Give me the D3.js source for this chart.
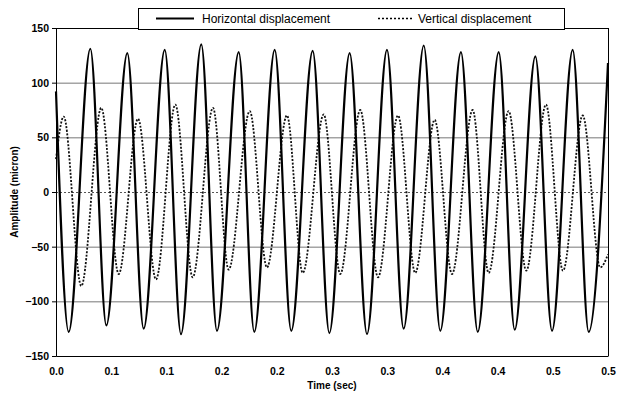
<!DOCTYPE html>
<html>
<head>
<meta charset="utf-8">
<script src="https://cdn.jsdelivr.net/npm/d3@7"></script>
<style>
body { margin: 0; background: #fff; }
svg { display: block; font-family: "Liberation Sans", Arial, sans-serif; }
</style>
</head>
<body>
<div id="chart"></div>
<script>
// Values: peaks and troughs of each trace
var horizTime = [0, 0.0115, 0.0311, 0.0456, 0.0646, 0.0794, 0.0985, 0.1132, 0.1316, 0.1458,
    0.1655, 0.1796, 0.1981, 0.2131, 0.2325, 0.2476, 0.2660, 0.2817, 0.2998, 0.3149,
    0.3331, 0.3481, 0.3668, 0.3820, 0.4010, 0.4155, 0.4342, 0.4493, 0.4680, 0.4825, 0.5];
var horizAmp = [92, -128, 131, -122, 127, -125, 130, -130, 135, -127,
    128, -128, 130, -127, 129, -129, 127, -130, 130, -125,
    134, -127, 128, -128, 128, -126, 124, -127, 130, -128, 118];

var vertTime = [0, 0.0070, 0.0229, 0.0410, 0.0568, 0.0743, 0.0906, 0.1081, 0.1238, 0.1422,
    0.1564, 0.1755, 0.1911, 0.2092, 0.2235, 0.2425, 0.2575, 0.2756, 0.2917, 0.3098,
    0.3254, 0.3430, 0.3587, 0.3774, 0.3919, 0.4100, 0.4260, 0.4438, 0.4592, 0.4771, 0.4930, 0.5];
var vertAmp = [30, 69, -86, 77, -75, 67, -80, 80, -78, 77,
    -71, 74, -69, 70, -74, 71, -75, 75, -78, 70,
    -74, 66, -75, 75, -74, 74, -72, 80, -72, 70, -69, -57];

var xTicks = [0, 0.05, 0.1, 0.15, 0.2, 0.25, 0.3, 0.35, 0.4, 0.45, 0.5];
var xTickLabels = ["0.0", "0.1", "0.1", "0.2", "0.2", "0.3", "0.3", "0.4", "0.4", "0.5", "0.5"];
var yTicks = [-150, -100, -50, 0, 50, 100, 150];
var seriesNames = ["Horizontal displacement", "Vertical displacement"];

var svgWidth = 618;
var svgHeight = 396;
var margin = {top: 28, right: 10, bottom: 40, left: 56};
var width = svgWidth - margin.left - margin.right;
var height = svgHeight - margin.top - margin.bottom;

var svg = d3.select("#chart").append("svg")
    .attr("width", svgWidth)
    .attr("height", svgHeight);

var chartGroup = svg.append("g")
    .attr("transform", `translate(${margin.left}, ${margin.top})`);

var x = d3.scaleLinear().domain([0, 0.5]).range([0, width]);
var y = d3.scaleLinear().domain([-150, 150]).range([height, 0]);

// grid lines
chartGroup.selectAll(".grid")
    .data(yTicks.filter(d => d != 150 && d != -150))
    .enter().append("line")
    .attr("x1", 0).attr("x2", width)
    .attr("y1", d => y(d) + 0.5).attr("y2", d => y(d) + 0.5)
    .attr("stroke", d => d == 0 ? "#555" : "#777")
    .attr("stroke-width", 1)
    .attr("stroke-dasharray", d => d == 0 ? "2,2" : null);

// frame top and right
chartGroup.append("line")
    .attr("x1", 0).attr("x2", width).attr("y1", 0.5).attr("y2", 0.5)
    .attr("stroke", "#000");
chartGroup.append("line")
    .attr("x1", width + 0.5).attr("x2", width + 0.5).attr("y1", 0).attr("y2", height)
    .attr("stroke", "#000");

var line = d3.line().curve(d3.curveMonotoneX);

var horizData = horizTime.map((t, i) => [x(t), y(horizAmp[i])]);
var vertData = vertTime.map((t, i) => [x(t), y(vertAmp[i])]);

chartGroup.append("path")
    .attr("d", line(vertData))
    .attr("fill", "none")
    .attr("stroke", "#111")
    .attr("stroke-width", 1.8)
    .attr("stroke-dasharray", "2,1.6");

chartGroup.append("path")
    .attr("d", line(horizData))
    .attr("fill", "none")
    .attr("stroke", "#000")
    .attr("stroke-width", 2.2);

// axes
var bottomAxis = d3.axisBottom(x).tickValues(xTicks)
    .tickFormat((d, i) => xTickLabels[i]).tickSize(0).tickPadding(12);
var leftAxis = d3.axisLeft(y).tickValues(yTicks).tickSize(4).tickPadding(3);

var gx = chartGroup.append("g")
    .attr("transform", `translate(0, ${height})`)
    .call(bottomAxis);
var gy = chartGroup.append("g").call(leftAxis);

[gx, gy].forEach(function(g) {
    g.selectAll("text").attr("font-family", "Liberation Sans, Arial, sans-serif")
        .attr("font-size", "10.5px").attr("font-weight", "bold").attr("fill", "#000");
    g.selectAll("path, line").attr("stroke", "#000");
});

// axis titles
svg.append("text")
    .attr("x", margin.left + width / 2)
    .attr("y", 389)
    .attr("text-anchor", "middle")
    .attr("font-size", "10px")
    .attr("font-weight", "bold")
    .text("Time (sec)");

svg.append("text")
    .attr("transform", `translate(18, ${margin.top + height / 2}) rotate(-90)`)
    .attr("text-anchor", "middle")
    .attr("font-size", "10px")
    .attr("font-weight", "bold")
    .text("Amplitude (micron)");

// legend
var legend = svg.append("g");
legend.append("rect")
    .attr("x", 138.5).attr("y", 8.5)
    .attr("width", 426).attr("height", 21)
    .attr("fill", "#fff").attr("stroke", "#000");
legend.append("line")
    .attr("x1", 156).attr("x2", 194).attr("y1", 18.5).attr("y2", 18.5)
    .attr("stroke", "#000").attr("stroke-width", 2);
legend.append("text")
    .attr("x", 202).attr("y", 23)
    .attr("font-size", "12px")
    .text(seriesNames[0]);
legend.append("line")
    .attr("x1", 378).attr("x2", 412).attr("y1", 18.5).attr("y2", 18.5)
    .attr("stroke", "#000").attr("stroke-width", 1.6)
    .attr("stroke-dasharray", "2,2");
legend.append("text")
    .attr("x", 418).attr("y", 23)
    .attr("font-size", "12px")
    .text(seriesNames[1]);
</script>
</body>
</html>
